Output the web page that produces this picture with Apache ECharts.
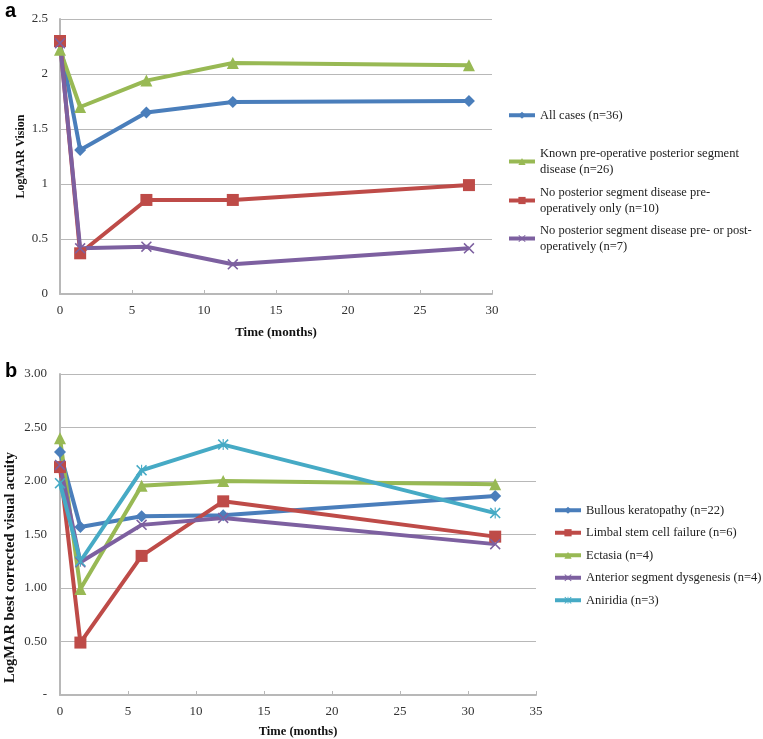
<!DOCTYPE html>
<html>
<head>
<meta charset="utf-8">
<script src="https://cdn.jsdelivr.net/npm/echarts@6/dist/echarts.min.js"></script>
<style>
  html, body { margin: 0; padding: 0; background: #fff; }
  #chart { width: 763px; height: 739px; }
</style>
</head>
<body>
<div id="chart"></div>
<script>
// panel a - time points (months) and LogMAR per group
const timeA = [0, 1.4, 6, 12, 28.4];
const allCases = [2.28, 1.31, 1.65, 1.745, 1.755];
const knownPosterior = [2.22, 1.70, 1.94, 2.10, 2.08];
const noPosteriorPre = [2.30, 0.37, 0.855, 0.855, 0.99];
const noPosteriorPrePost = [2.28, 0.415, 0.43, 0.27, 0.415];
const namesA = [
  'All cases (n=36)',
  'Known pre-operative posterior segment\ndisease (n=26)',
  'No posterior segment disease pre-\noperatively only (n=10)',
  'No posterior segment disease pre- or post-\noperatively (n=7)'
];

// panel b
const timeB = [0, 1.5, 6, 12, 32];
const bullous = [2.27, 1.57, 1.67, 1.68, 1.86];
const limbal = [2.13, 0.49, 1.30, 1.81, 1.48];
const ectasia = [2.40, 0.99, 1.955, 2.00, 1.97];
const dysgenesis = [2.15, 1.24, 1.59, 1.655, 1.41];
const aniridia = [1.98, 1.25, 2.10, 2.34, 1.70];
const namesB = [
  'Bullous keratopathy (n=22)',
  'Limbal stem cell failure (n=6)',
  'Ectasia (n=4)',
  'Anterior segment dysgenesis (n=4)',
  'Aniridia (n=3)'
];

const BLUE = '#4a7ebb', RED = '#be4b48', GREEN = '#98b954', PURPLE = '#7d60a0', CYAN = '#46aac5';
const FONT = '"Liberation Serif", "DejaVu Serif", serif';
const xMark = 'path://M0,1 L1,0 L5,4 L9,0 L10,1 L6,5 L10,9 L9,10 L5,6 L1,10 L0,9 L4,5 Z';
const starMark = 'path://M0,1 L1,0 L5,4 L9,0 L10,1 L6,5 L10,9 L9,10 L5,6 L1,10 L0,9 L4,5 Z M4.5,0 L5.5,0 L5.5,10 L4.5,10 Z';

function pairs(xs, ys) { return xs.map((x, i) => [x, ys[i]]); }

function mkSeries(name, xs, ys, color, symbol, size, idx) {
  return {
    name: name, type: 'line', xAxisIndex: idx, yAxisIndex: idx,
    data: pairs(xs, ys),
    symbol: symbol, symbolSize: size,
    lineStyle: { width: 4, color: color },
    itemStyle: { color: color },
    emphasis: { disabled: true },
    animation: false
  };
}

const gridLine = { show: true, lineStyle: { color: '#b8b8b8', width: 1 } };
const axisLine = { show: true, lineStyle: { color: '#b8b8b8', width: 2 } };
const labelStyle = { color: '#333', fontFamily: FONT, fontSize: 13 };
const nameStyle = { color: '#111', fontFamily: FONT, fontSize: 13, fontWeight: 'bold' };

const legendBase = {
  orient: 'vertical', itemWidth: 26, itemHeight: 9, itemGap: 6.5, padding: 0,
  lineStyle: { width: 4 },
  textStyle: { color: '#222', fontFamily: FONT, fontSize: 12.5, lineHeight: 16.5 },
  selectedMode: false
};

const chart = echarts.init(document.getElementById('chart'));
chart.setOption({
  backgroundColor: '#fff',
  title: [
    { text: 'a', left: 0, top: -4, textStyle: { fontFamily: '"Liberation Sans", Arial, sans-serif', fontSize: 20, fontWeight: 'bold', color: '#000' } },
    { text: 'b', left: 0, top: 356, textStyle: { fontFamily: '"Liberation Sans", Arial, sans-serif', fontSize: 20, fontWeight: 'bold', color: '#000' } }
  ],
  grid: [
    { left: 60, right: 271, top: 19, bottom: 445, outerBoundsMode: 'none' },
    { left: 60, right: 227, top: 374, bottom: 44, outerBoundsMode: 'none' }
  ],
  xAxis: [
    {
      type: 'value', gridIndex: 0, min: 0, max: 30, interval: 5,
      name: 'Time (months)', nameLocation: 'middle', nameGap: 32, nameTextStyle: nameStyle,
      nameMoveOverlap: false,
      axisLine: axisLine, axisTick: { show: true, inside: true, length: 4, lineStyle: { color: '#b8b8b8' } },
      axisLabel: Object.assign({ margin: 10 }, labelStyle), splitLine: { show: false }
    },
    {
      type: 'value', gridIndex: 1, min: 0, max: 35, interval: 5,
      name: 'Time (months)', nameLocation: 'middle', nameGap: 30,
      nameTextStyle: Object.assign({}, nameStyle, { fontSize: 12.5 }),
      nameMoveOverlap: false,
      axisLine: axisLine, axisTick: { show: true, inside: true, length: 4, lineStyle: { color: '#b8b8b8' } },
      axisLabel: Object.assign({ margin: 10 }, labelStyle), splitLine: { show: false }
    }
  ],
  yAxis: [
    {
      type: 'value', gridIndex: 0, min: 0, max: 2.5, interval: 0.5,
      name: 'LogMAR Vision', nameLocation: 'middle', nameGap: 33,
      nameTextStyle: Object.assign({}, nameStyle, { fontSize: 12 }),
      nameMoveOverlap: false,
      axisLine: axisLine, axisTick: { show: false },
      axisLabel: Object.assign({ margin: 12 }, labelStyle), splitLine: gridLine
    },
    {
      type: 'value', gridIndex: 1, min: 0, max: 3, interval: 0.5,
      name: 'LogMAR best corrected visual acuity', nameLocation: 'middle', nameGap: 42,
      nameTextStyle: Object.assign({}, nameStyle, { fontSize: 14.5, padding: [0, 66, 0, 0] }),
      nameMoveOverlap: false,
      axisLine: axisLine, axisTick: { show: false },
      axisLabel: Object.assign({ margin: 13, formatter: v => v === 0 ? '-' : v.toFixed(2) }, labelStyle),
      splitLine: gridLine
    }
  ],
  legend: [
    Object.assign({}, legendBase, { left: 507, top: 107, data: [namesA[0]] }),
    Object.assign({}, legendBase, { left: 507, top: 145, data: [namesA[1]] }),
    Object.assign({}, legendBase, { left: 507, top: 184, data: [namesA[2]] }),
    Object.assign({}, legendBase, { left: 507, top: 222, data: [namesA[3]] }),
    Object.assign({}, legendBase, { left: 553, top: 502, itemGap: 6, data: namesB })
  ],
  series: [
    mkSeries(namesA[0], timeA, allCases, BLUE, 'diamond', 12, 0),
    mkSeries(namesA[1], timeA, knownPosterior, GREEN, 'triangle', 12, 0),
    mkSeries(namesA[2], timeA, noPosteriorPre, RED, 'rect', 12, 0),
    mkSeries(namesA[3], timeA, noPosteriorPrePost, PURPLE, xMark, 11, 0),
    mkSeries(namesB[0], timeB, bullous, BLUE, 'diamond', 12, 1),
    mkSeries(namesB[1], timeB, limbal, RED, 'rect', 12, 1),
    mkSeries(namesB[2], timeB, ectasia, GREEN, 'triangle', 12, 1),
    mkSeries(namesB[3], timeB, dysgenesis, PURPLE, xMark, 11, 1),
    mkSeries(namesB[4], timeB, aniridia, CYAN, starMark, 11, 1)
  ]
});
</script>
</body>
</html>
